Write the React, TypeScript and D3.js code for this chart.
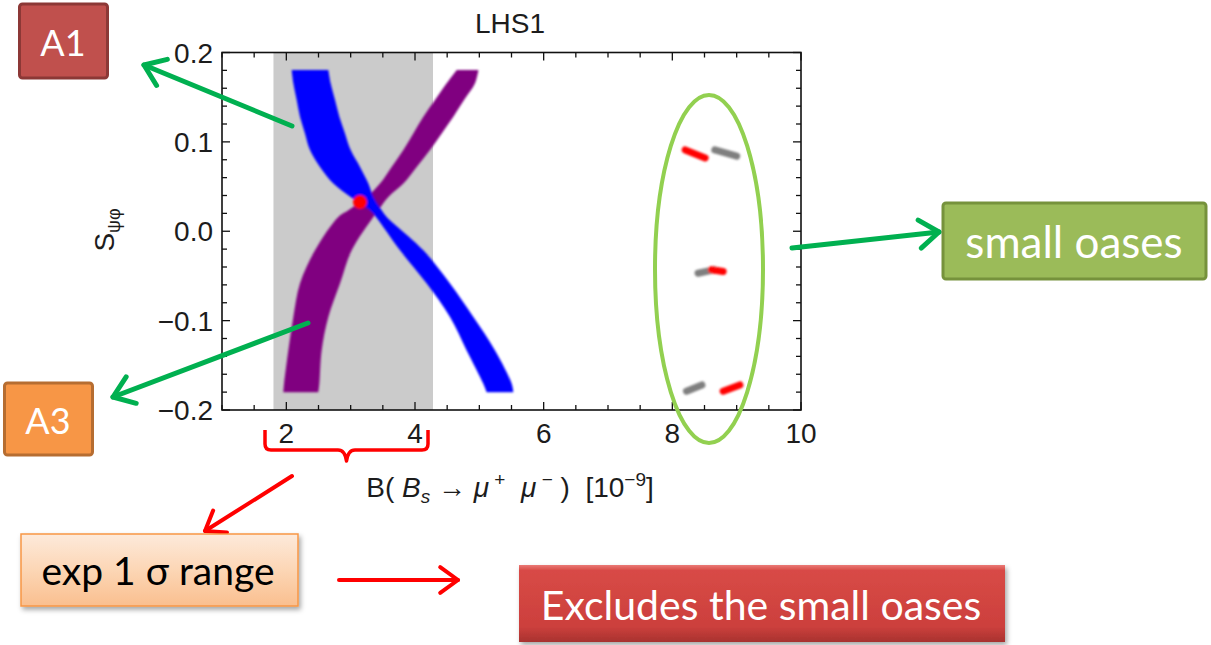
import React from "react";
import * as d3 from "d3";

// ---------- data ----------
const xTickLabels = [2, 4, 6, 8, 10];
const yTickLabels = [-0.2, -0.1, 0.0, 0.1, 0.2];
const expRange = [1.8, 4.28];

// band samples: y value, left and right x edges
const bandY = [0.1804, 0.1655, 0.1468, 0.1281, 0.1095, 0.0908, 0.072, 0.0534, 0.0384, 0.0235, 0.016, -0.0213, -0.0586, -0.096, -0.1333, -0.1706, -0.1801];
const blueLeft = [2.083, 2.109, 2.161, 2.212, 2.29, 2.368, 2.523, 2.731, 3.0, 3.301, 3.394, 3.767, 4.182, 4.544, 4.803, 5.062, 5.114];
const blueRight = [2.653, 2.689, 2.757, 2.824, 2.912, 3.0, 3.145, 3.275, 3.352, 3.482, 3.56, 4.13, 4.544, 4.907, 5.244, 5.503, 5.529];
const purpleLeft = [4.648, 4.492, 4.311, 4.13, 3.974, 3.819, 3.637, 3.456, 3.249, 2.964, 2.808, 2.446, 2.212, 2.109, 2.031, 1.964, 1.953];
const purpleRight = [4.985, 4.933, 4.762, 4.596, 4.415, 4.233, 4.026, 3.819, 3.586, 3.43, 3.352, 3.016, 2.834, 2.653, 2.549, 2.513, 2.497];

const smPoint = { x: 3.145, y: 0.0328 };

// small oases: short segments
const oasisRedX1 = [8.2, 8.61, 8.79];
const oasisRedY1 = [0.091, -0.043, -0.179];
const oasisRedX2 = [8.51, 8.79, 9.05];
const oasisRedY2 = [0.082, -0.045, -0.172];
const oasisGrayX1 = [8.66, 8.4, 8.22];
const oasisGrayY1 = [0.091, -0.047, -0.179];
const oasisGrayX2 = [9.0, 8.66, 8.46];
const oasisGrayY2 = [0.084, -0.043, -0.172];

// ---------- layout ----------
const W = 1211;
const H = 645;
const xScale = d3.scaleLinear().domain([1, 10]).range([222, 801]);
const yScale = d3.scaleLinear().domain([-0.2, 0.2]).range([410, 52.5]);

const chartFont = "'Liberation Sans', Arial, Helvetica, sans-serif";
const noteFont = "Lato, 'Open Sans', sans-serif";

function arrowHead(x1: number, y1: number, x2: number, y2: number, len: number, ang: number) {
  const a = Math.atan2(y1 - y2, x1 - x2);
  const p1 = [x2 + len * Math.cos(a + ang), y2 + len * Math.sin(a + ang)];
  const p2 = [x2 + len * Math.cos(a - ang), y2 + len * Math.sin(a - ang)];
  return `M${p1[0]},${p1[1]}L${x2},${y2}L${p2[0]},${p2[1]}`;
}

function Arrow({ x1, y1, x2, y2, color, width, len }: any) {
  return (
    <g stroke={color} strokeWidth={width} fill="none" strokeLinecap="round" strokeLinejoin="round">
      <line x1={x1} y1={y1} x2={x2} y2={y2} />
      <path d={arrowHead(x1, y1, x2, y2, len, (36 * Math.PI) / 180)} />
    </g>
  );
}

export default function App() {
  const rows = bandY.map((y, i) => ({ y, bl: blueLeft[i], br: blueRight[i], pl: purpleLeft[i], pr: purpleRight[i] }));
  const curve = d3.curveCatmullRom.alpha(0.5);
  const blueArea = d3
    .area<any>()
    .y((d) => yScale(d.y))
    .x0((d) => xScale(d.bl))
    .x1((d) => xScale(d.br))
    .curve(curve)(rows);
  const purpleArea = d3
    .area<any>()
    .y((d) => yScale(d.y))
    .x0((d) => xScale(d.pl))
    .x1((d) => xScale(d.pr))
    .curve(curve)(rows);

  const [x0, x1] = xScale.range();
  const [yb, yt] = yScale.range();

  const xMinor = d3.range(1, 10.001, 0.5);
  const yMinor = d3.range(-0.2, 0.2001, 0.02);
  const isMajorX = (v: number) => Math.abs(v / 2 - Math.round(v / 2)) < 1e-6;
  const isMajorY = (v: number) => Math.abs(v / 0.1 - Math.round(v / 0.1)) < 1e-6;

  const fmtY = (v: number) => {
    const s = Math.abs(v).toFixed(1);
    return v < -1e-9 ? "\u2212" + s : s;
  };

  return (
    <svg width={W} height={H} style={{ position: "absolute", left: 0, top: 0, display: "block" }}>
      <defs>
        <filter id="shadow" x="-10%" y="-20%" width="130%" height="160%">
          <feDropShadow dx="2" dy="3" stdDeviation="2.5" floodColor="#000" floodOpacity="0.35" />
        </filter>
        <filter id="soft" x="-20%" y="-20%" width="140%" height="140%">
          <feGaussianBlur stdDeviation="0.8" />
        </filter>
        <linearGradient id="expGrad" x1="0" y1="0" x2="0" y2="1">
          <stop offset="0" stopColor="#fdeadb" />
          <stop offset="0.5" stopColor="#fcd6b5" />
          <stop offset="1" stopColor="#fabf8f" />
        </linearGradient>
        <linearGradient id="exclGrad" x1="0" y1="0" x2="0" y2="1">
          <stop offset="0" stopColor="#ea7a76" />
          <stop offset="0.07" stopColor="#d84a46" />
          <stop offset="0.8" stopColor="#cc403d" />
          <stop offset="1" stopColor="#a8322f" />
        </linearGradient>
      </defs>

      {/* plot background */}
      <rect x={x0} y={yt} width={x1 - x0} height={yb - yt} fill="#fff" />
      <rect
        x={xScale(expRange[0])}
        y={yt}
        width={xScale(expRange[1]) - xScale(expRange[0])}
        height={yb - yt}
        fill="#cbcbcb"
      />

      {/* bands */}
      <g filter="url(#soft)">
        <path d={purpleArea || ""} fill="#800080" />
        <path d={blueArea || ""} fill="#0000ff" />
        <circle cx={xScale(smPoint.x)} cy={yScale(smPoint.y)} r={7} fill="#ff0000" />
        {oasisGrayX1.map((v, i) => (
          <line
            key={"g" + i}
            x1={xScale(v)}
            y1={yScale(oasisGrayY1[i])}
            x2={xScale(oasisGrayX2[i])}
            y2={yScale(oasisGrayY2[i])}
            stroke="#7f7f7f"
            strokeWidth={7}
            strokeLinecap="round"
          />
        ))}
        {oasisRedX1.map((v, i) => (
          <line
            key={"r" + i}
            x1={xScale(v)}
            y1={yScale(oasisRedY1[i])}
            x2={xScale(oasisRedX2[i])}
            y2={yScale(oasisRedY2[i])}
            stroke="#ff0000"
            strokeWidth={7}
            strokeLinecap="round"
          />
        ))}
      </g>

      {/* frame and ticks */}
      <rect x={x0} y={yt} width={x1 - x0} height={yb - yt} fill="none" stroke="#111" strokeWidth={1.6} />
      <g stroke="#111" strokeWidth={1.3}>
        {xMinor.map((v, i) => {
          const L = isMajorX(v) ? 8 : 5;
          const x = xScale(v);
          return (
            <g key={"xt" + i}>
              <line x1={x} x2={x} y1={yb} y2={yb - L} />
              <line x1={x} x2={x} y1={yt} y2={yt + L} />
            </g>
          );
        })}
        {yMinor.map((v, i) => {
          const L = isMajorY(v) ? 8 : 5;
          const y = yScale(v);
          return (
            <g key={"yt" + i}>
              <line x1={x0} x2={x0 + L} y1={y} y2={y} />
              <line x1={x1} x2={x1 - L} y1={y} y2={y} />
            </g>
          );
        })}
      </g>

      {/* tick labels */}
      <g fontFamily={chartFont} fontSize={28} fill="#1c1c1c">
        {xTickLabels.map((v) => (
          <text key={"xl" + v} x={xScale(v)} y={443} textAnchor="middle">
            {v}
          </text>
        ))}
        {yTickLabels.map((v) => (
          <text key={"yl" + v} x={213} y={yScale(v) + 10} textAnchor="end">
            {fmtY(v)}
          </text>
        ))}
        <text x={510} y={33} textAnchor="middle">
          LHS1
        </text>
        <text x={510} y={497} textAnchor="middle" style={{ whiteSpace: "pre" }}>
          <tspan>{"B( "}</tspan>
          <tspan fontStyle="italic">B</tspan>
          <tspan fontStyle="italic" fontSize={19} dy={6}>
            s
          </tspan>
          <tspan dy={-6}>{" \u2192 "}</tspan>
          <tspan fontStyle="italic">{"\u03bc"}</tspan>
          <tspan fontSize={19} dy={-11}>
            {" +"}
          </tspan>
          <tspan dy={11}>{"  "}</tspan>
          <tspan fontStyle="italic">{"\u03bc"}</tspan>
          <tspan fontSize={19} dy={-11}>
            {" \u2212"}
          </tspan>
          <tspan dy={11}>{" )  [10"}</tspan>
          <tspan fontSize={19} dy={-11}>
            {"\u2212"}9
          </tspan>
          <tspan dy={11}>]</tspan>
        </text>
        <text transform="translate(114,230) rotate(-90)" textAnchor="middle">
          <tspan>S</tspan>
          <tspan fontSize={18} dy={6}>
            {"\u03c8\u03c6"}
          </tspan>
        </text>
      </g>

      {/* oases ellipse */}
      <ellipse cx={709} cy={269} rx={54} ry={174} fill="none" stroke="#92d050" strokeWidth={4} />

      {/* red brace */}
      <path
        d="M265,430 L265,444 Q265,450 271,450 L338,450 Q345,450 346.5,461 Q348,450 355,450 L422,450 Q428,450 428,444 L428,430"
        fill="none"
        stroke="#ff0000"
        strokeWidth={3.5}
        strokeLinejoin="round"
      />

      {/* arrows */}
      <Arrow x1={292} y1={126} x2={144} y2={65} color="#00b050" width={5} len={24} />
      <Arrow x1={308} y1={323} x2={113} y2={397} color="#00b050" width={5} len={24} />
      <Arrow x1={792} y1={248} x2={939} y2={232} color="#00b050" width={5} len={24} />
      <Arrow x1={292} y1={476} x2={205} y2={531} color="#ff0000" width={4} len={22} />
      <Arrow x1={339} y1={580} x2={458} y2={580} color="#ff0000" width={4} len={22} />

      {/* annotation boxes */}
      <g fontFamily={noteFont}>
        <rect x={19.5} y={4} width={88} height={74} rx={3} fill="#c0504d" stroke="#8c3836" strokeWidth={3} />
        <text x={63} y={42} textAnchor="middle" dominantBaseline="central" fill="#fff" fontSize={36}>
          A1
        </text>

        <rect x={4.5} y={383} width={88} height={72} rx={3} fill="#f79646" stroke="#b66d31" strokeWidth={3} />
        <text x={48} y={420} textAnchor="middle" dominantBaseline="central" fill="#fff" fontSize={36}>
          A3
        </text>

        <rect x={943} y={203} width={263} height={76} rx={3} fill="#9bbb59" stroke="#76923c" strokeWidth={3} />
        <text x={1074} y={241} textAnchor="middle" dominantBaseline="central" fill="#fff" fontSize={44}>
          small oases
        </text>

        <rect x={21} y={534} width={277} height={72} fill="url(#expGrad)" stroke="#f79646" strokeWidth={1.5} filter="url(#shadow)" />
        <text x={158} y={570} textAnchor="middle" dominantBaseline="central" fill="#000" fontSize={39}>
          exp 1 {"\u03c3"} range
        </text>

        <rect x={519} y={565} width={486} height={77} fill="url(#exclGrad)" filter="url(#shadow)" />
        <text x={761} y={604} textAnchor="middle" dominantBaseline="central" fill="#fff" fontSize={41}>
          Excludes the small oases
        </text>
      </g>
    </svg>
  );
}
